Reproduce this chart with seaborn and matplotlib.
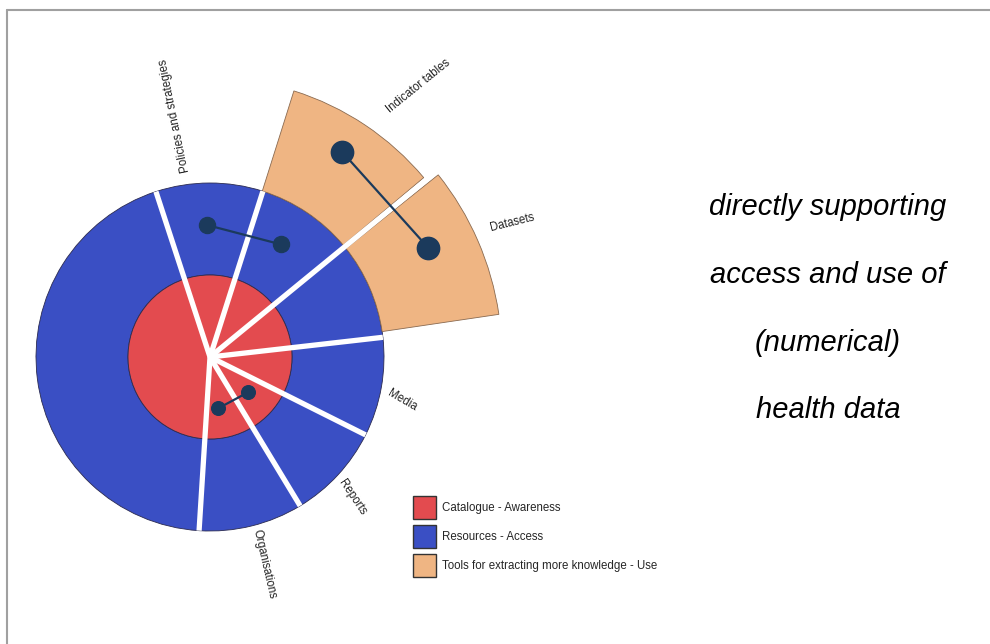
import numpy as np
import seaborn as sns
import matplotlib.pyplot as plt
from matplotlib.patches import Patch
from matplotlib.lines import Line2D

# sectors, angles in degrees (counter-clockwise from east)
sector_names = ["Organisations", "Reports", "Media", "Datasets",
                "Indicator tables", "Policies and strategies", ""]
sector_start = [-93.6, -58.8, -26.6, 6.5, 39.3, 72.3, 108.1]
sector_end = [-58.8, -26.6, 6.5, 39.3, 72.3, 108.1, 266.4]

# ring radii
catalogue_r = 82
resources_r = 174

# outer "tools" sectors
tools_names = ["Datasets", "Indicator tables"]
tools_start = [8.4, 40.0]
tools_end = [38.6, 72.5]
tools_r = [292, 279]

# connected dots: (angle, radius) pairs
link_from_deg = [91.3, 57.2, -81.0]
link_from_r = [132, 244, 52]
link_to_deg = [57.9, 26.6, -42.6]
link_to_r = [133, 244, 52]
link_size = [135, 250, 100]

# white separators between sectors
gap_deg = [-93.6, -58.8, -26.6, 6.5, 39.3, 72.3, 108.1]
gap_r = [174, 174, 174, 174, 300, 174, 174]

# label anchors
label_deg = [-75.0, -43.2, -11.1, 24.7, 54.2, 97.5]
label_r = [179, 180, 182, 308, 304, 186]
label_rot = [-77, -56, -30, 14, 39, 101.5]

legend_labels = ["Catalogue - Awareness", "Resources - Access",
                 "Tools for extracting more knowledge - Use"]
side_text = ["directly supporting", "access and use of", "(numerical)", "health data"]

sns.set_theme(style="white")
plt.rcParams["font.family"] = ["Liberation Sans", "DejaVu Sans"]

red, blue, tan = sns.color_palette(["#e34b4f", "#3a4fc4", "#efb583"])
navy = "#1b3a5c"
edge = "#2b2b50"

fig = plt.figure(figsize=(9.9, 6.44), dpi=100)
cx, cy, span = 210, 357, 300
ax = fig.add_axes([(cx - span) / 990, (644 - cy - span) / 644,
                   2 * span / 990, 2 * span / 644], projection="polar")
ax.set_ylim(0, span)
ax.axis("off")

start = np.radians(sector_start)
width = np.radians(np.array(sector_end) - np.array(sector_start))
ax.bar(start, catalogue_r, width=width, bottom=0, align="edge",
       color=red, edgecolor=edge, linewidth=0.6, zorder=2)
ax.bar(start, resources_r - catalogue_r, width=width, bottom=catalogue_r,
       align="edge", color=blue, edgecolor=edge, linewidth=0.6, zorder=1)

t_start = np.radians(tools_start)
t_width = np.radians(np.array(tools_end) - np.array(tools_start))
ax.bar(t_start, np.array(tools_r) - resources_r, width=t_width,
       bottom=resources_r, align="edge", color=tan, edgecolor="#8a6a50",
       linewidth=0.6, zorder=1)

for g, r in zip(gap_deg, gap_r):
    ax.plot([np.radians(g)] * 2, [0, r], color="white", lw=3.8,
            solid_capstyle="butt", zorder=3)

for t1, r1, t2, r2, s in zip(link_from_deg, link_from_r, link_to_deg,
                             link_to_r, link_size):
    ax.annotate("", xy=(np.radians(t2), r2), xytext=(np.radians(t1), r1),
                arrowprops=dict(arrowstyle="-", color=navy, lw=1.6,
                                shrinkA=0, shrinkB=0), zorder=4)
    sns.scatterplot(x=np.radians([t1, t2]), y=[r1, r2], s=s, color=navy,
                    edgecolor=navy, ax=ax, zorder=5, legend=False)

for name, d, r, rot in zip(sector_names, label_deg, label_r, label_rot):
    ax.text(np.radians(d), r, name, rotation=rot, rotation_mode="anchor",
            ha="left", va="center", fontsize=8.3, color="#222222")

handles = [Patch(facecolor=c, edgecolor="#333333", linewidth=1.0)
           for c in (red, blue, tan)]
fig.legend(handles, legend_labels, loc="upper left",
           bbox_to_anchor=(413 / 990, 1 - 496 / 644), frameon=False,
           borderpad=0, borderaxespad=0, fontsize=8.3, handlelength=2.0,
           handleheight=2.7, labelspacing=0.52, handletextpad=0.5)

baselines = [215, 283, 351, 418]
for line, b in zip(side_text, baselines):
    fig.text(828 / 990, 1 - b / 644, line, ha="center", va="baseline",
             fontsize=21, style="italic", color="black")

grey = "#a0a0a0"
fig.add_artist(Line2D([7 / 990, 7 / 990], [0, 1 - 10 / 644], color=grey,
                      lw=1.5, transform=fig.transFigure))
fig.add_artist(Line2D([7 / 990, 1], [1 - 10 / 644, 1 - 10 / 644], color=grey,
                      lw=1.5, transform=fig.transFigure))

fig.savefig("out.png", dpi=100)
